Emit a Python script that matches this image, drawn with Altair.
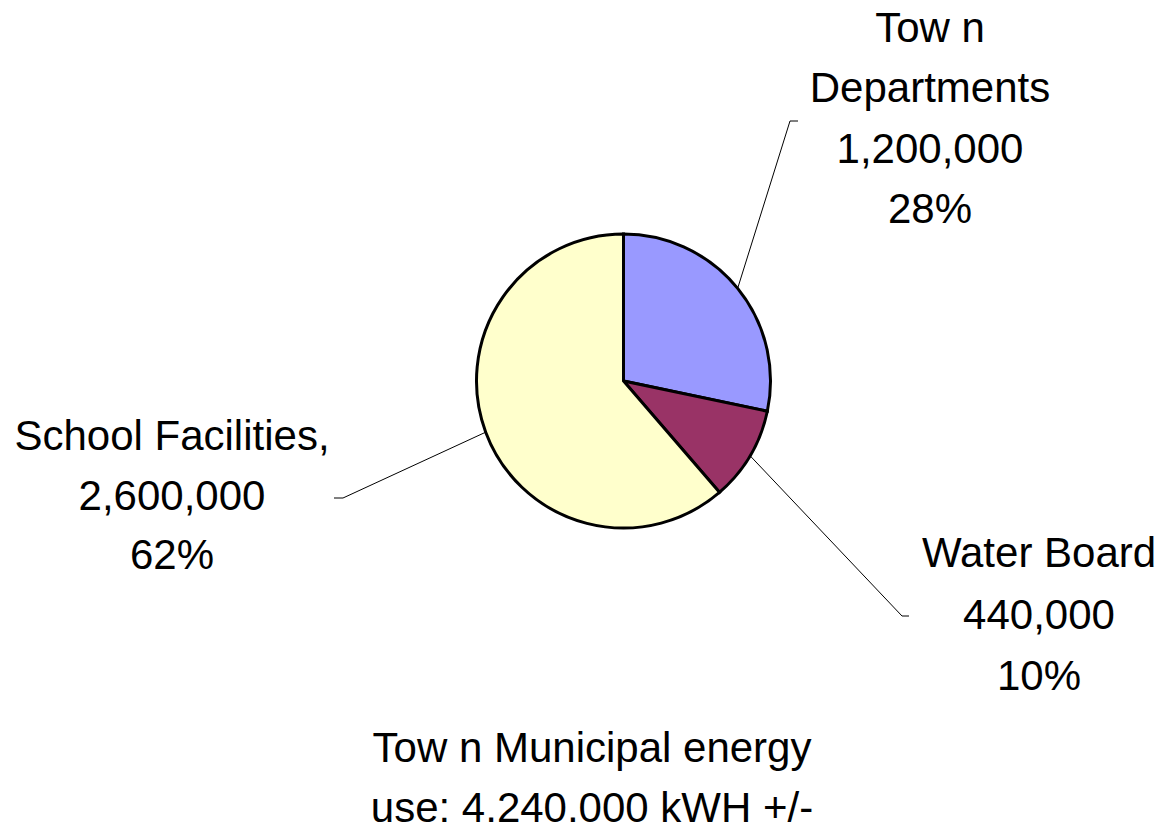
import math
import altair as alt
import pandas as pd

# ---- data ----
categories = ["Town Departments", "Water Board", "School Facilities"]
values = [1200000, 440000, 2600000]
colors = ["#9999FF", "#993366", "#FFFFCC"]
label_lines = [
    ["Tow n", "Departments", "1,200,000", "28%"],
    ["Water Board", "440,000", "10%"],
    ["School Facilities,", "2,600,000", "62%"],
]
title_lines = ["Tow n Municipal energy", "use: 4,240,000 kWH +/-"]

# ---- layout (chart pixel space, origin top-left of the chart) ----
W, H = 1149, 814
CX, CY, R = 615.5, 373.0, 147.0
FONT = "Liberation Sans"
FS = 42
label_anchor = [(922, 34, 60.3), (1031, 559, 61.5), (164, 442, 59.5)]
elbow = [((782, 113), (790, 113)), ((894, 608), (901, 608)), ((335, 490), (326, 490))]
title_anchor = (584, 754, 60)

pie_df = pd.DataFrame({"category": categories, "value": values, "order": list(range(len(values)))})

# text rows
rows = []
for (ax, ay, lh), lines in zip(label_anchor, label_lines):
    for i, t in enumerate(lines):
        rows.append({"x": ax, "y": ay + i * lh, "text": t})
tx, ty, tlh = title_anchor
for i, t in enumerate(title_lines):
    rows.append({"x": tx, "y": ty + i * tlh, "text": t})
text_df = pd.DataFrame(rows)

# leader lines: start at pie edge at each slice's mid angle
total = sum(values)
lead = []
cum = 0
for k, v in enumerate(values):
    mid = (cum + v / 2) / total * 2 * math.pi
    cum += v
    sx = CX + R * math.sin(mid)
    sy = CY - R * math.cos(mid)
    pts = [(sx, sy), elbow[k][0], elbow[k][1]]
    for j, (px, py) in enumerate(pts):
        lead.append({"g": categories[k], "i": j, "x": px, "y": py})
lead_df = pd.DataFrame(lead)

xs = alt.Scale(domain=[0, W], range=[0, W], zero=False, nice=False)
ys = alt.Scale(domain=[0, H], range=[0, H], zero=False, nice=False)

pie = alt.Chart(pie_df).mark_arc(outerRadius=R, stroke="black", strokeWidth=3).encode(
    theta=alt.Theta("value:Q", stack=True),
    order=alt.Order("order:Q"),
    color=alt.Color("category:N", scale=alt.Scale(domain=categories, range=colors), legend=None),
    x=alt.value(CX),
    y=alt.value(CY),
)

leaders = alt.Chart(lead_df).mark_line(color="black", strokeWidth=1).encode(
    x=alt.X("x:Q", scale=xs, axis=None),
    y=alt.Y("y:Q", scale=ys, axis=None),
    detail="g:N",
    order="i:Q",
)

texts = alt.Chart(text_df).mark_text(
    font=FONT, fontSize=FS, align="center", baseline="alphabetic", color="black"
).encode(
    x=alt.X("x:Q", scale=xs, axis=None),
    y=alt.Y("y:Q", scale=ys, axis=None),
    text="text:N",
)

chart = alt.layer(pie, leaders, texts).properties(
    width=W, height=H, autosize=alt.AutoSizeParams(type="none"), padding=0, background="white"
).configure_view(stroke=None)

chart.save("out.html", embed_options={"renderer": "svg", "actions": False})
